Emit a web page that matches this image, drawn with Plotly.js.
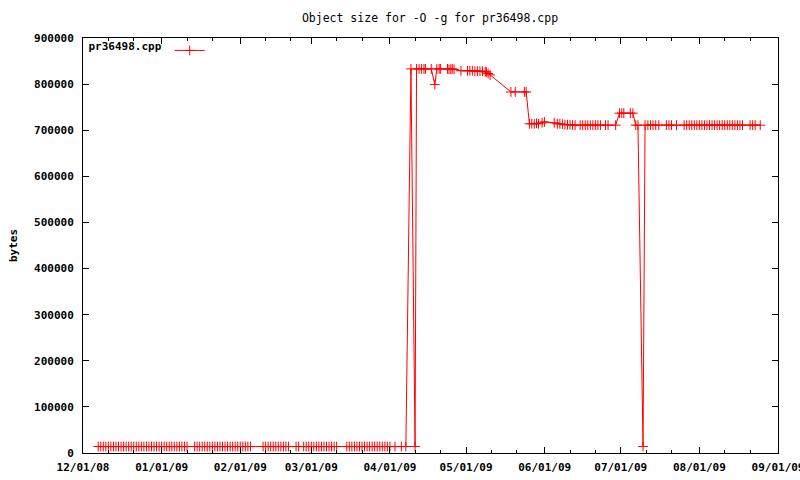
<!DOCTYPE html>
<html>
<head>
<meta charset="utf-8">
<script src="https://cdn.plot.ly/plotly-3.0.1.min.js"></script>
<style>html,body{margin:0;padding:0;background:#fff}#chart{width:800px;height:480px}</style>
</head>
<body>
<div id="chart"></div>
<script>
// ---- data ----
const seriesName = "pr36498.cpp";
const chartTitle = "Object size for -O -g for pr36498.cpp";
const yTitle = "bytes";

const lowDates = [
  "2008-12-07","2008-12-08","2008-12-09","2008-12-10","2008-12-11","2008-12-12","2008-12-13","2008-12-14","2008-12-15","2008-12-16",
  "2008-12-17","2008-12-18","2008-12-19","2008-12-20","2008-12-21","2008-12-22","2008-12-23","2008-12-24","2008-12-25","2008-12-26",
  "2008-12-27","2008-12-28","2008-12-29","2008-12-30","2008-12-31","2009-01-01","2009-01-02","2009-01-03","2009-01-04","2009-01-05",
  "2009-01-06","2009-01-07","2009-01-08","2009-01-09","2009-01-10","2009-01-11",
  "2009-01-14","2009-01-15","2009-01-16","2009-01-17","2009-01-18","2009-01-19","2009-01-20","2009-01-21","2009-01-22","2009-01-23",
  "2009-01-24","2009-01-25","2009-01-26","2009-01-27","2009-01-28","2009-01-29","2009-01-30","2009-01-31","2009-02-01","2009-02-02",
  "2009-02-03","2009-02-04","2009-02-05",
  "2009-02-10","2009-02-11","2009-02-12","2009-02-13","2009-02-14","2009-02-15","2009-02-16","2009-02-17","2009-02-18","2009-02-19",
  "2009-02-20","2009-02-23","2009-02-24",
  "2009-02-26","2009-02-27","2009-02-28","2009-03-01","2009-03-02","2009-03-03","2009-03-04","2009-03-05","2009-03-06","2009-03-07",
  "2009-03-08","2009-03-09","2009-03-10","2009-03-11",
  "2009-03-15","2009-03-16","2009-03-17","2009-03-18","2009-03-19","2009-03-20","2009-03-21","2009-03-22","2009-03-23","2009-03-24",
  "2009-03-25","2009-03-26","2009-03-27","2009-03-28","2009-03-29","2009-03-30","2009-03-31","2009-04-01",
  "2009-04-03","2009-04-05 12:00","2009-04-07 07:00"
];
const lowBytes = [
  14000,14000,14000,14000,14000,14000,14000,14000,14000,14000,
  14000,14000,14000,14000,14000,14000,14000,14000,14000,14000,
  14000,14000,14000,14000,14000,14000,14000,14000,14000,14000,
  14000,14000,14000,14000,14000,14000,
  14000,14000,14000,14000,14000,14000,14000,14000,14000,14000,
  14000,14000,14000,14000,14000,14000,14000,14000,14000,14000,
  14000,14000,14000,
  14000,14000,14000,14000,14000,14000,14000,14000,14000,14000,
  14000,14000,14000,
  14000,14000,14000,14000,14000,14000,14000,14000,14000,14000,
  14000,14000,14000,14000,
  14000,14000,14000,14000,14000,14000,14000,14000,14000,14000,
  14000,14000,14000,14000,14000,14000,14000,14000,
  14000,14000,14000
];

const highDates = [
  "2009-04-09 07:00","2009-04-10 22:00","2009-04-11 12:00","2009-04-12 12:00","2009-04-13 10:00","2009-04-14 10:00","2009-04-15","2009-04-17 07:00","2009-04-18 17:00","2009-04-19 12:00",
  "2009-04-20 10:00","2009-04-21","2009-04-23 17:00","2009-04-24 07:00","2009-04-25","2009-04-25 14:00","2009-04-26 07:00","2009-04-29","2009-05-01 14:00","2009-05-02 12:00",
  "2009-05-03 12:00","2009-05-04 12:00","2009-05-05 12:00","2009-05-06 12:00","2009-05-07 12:00","2009-05-08 14:00","2009-05-09","2009-05-09 17:00","2009-05-10 12:00","2009-05-18 17:00",
  "2009-05-20 10:00","2009-05-24","2009-05-24 17:00","2009-05-26","2009-05-26 22:00","2009-05-27 22:00","2009-05-28 19:00","2009-05-29 14:00","2009-05-31","2009-05-31 22:00",
  "2009-06-04 19:00","2009-06-06","2009-06-07","2009-06-08","2009-06-09","2009-06-10","2009-06-11","2009-06-12","2009-06-13","2009-06-15",
  "2009-06-16","2009-06-17","2009-06-18","2009-06-19","2009-06-20","2009-06-21","2009-06-22","2009-06-23","2009-06-25","2009-06-26",
  "2009-06-29","2009-06-30 12:00","2009-07-01 10:00","2009-07-02 05:00","2009-07-04 19:00","2009-07-05 19:00","2009-07-06 22:00","2009-07-07 19:00","2009-07-09 19:00","2009-07-10 14:00",
  "2009-07-11 17:00","2009-07-12 17:00","2009-07-13 17:00","2009-07-14 19:00","2009-07-16","2009-07-19","2009-07-20","2009-07-21","2009-07-23","2009-07-26",
  "2009-07-27","2009-07-28","2009-07-29","2009-07-30","2009-07-31","2009-08-01","2009-08-02","2009-08-03","2009-08-04","2009-08-05",
  "2009-08-06","2009-08-07","2009-08-08","2009-08-09","2009-08-10","2009-08-11","2009-08-12","2009-08-13","2009-08-14","2009-08-15",
  "2009-08-16","2009-08-17","2009-08-18","2009-08-21","2009-08-22","2009-08-23","2009-08-25"
];
const highBytes = [
  833000,14000,833000,833000,833000,833000,833000,833000,799000,833000,
  833000,833000,833000,832000,832000,833000,832000,829000,829000,829000,
  829000,828000,828000,828000,828000,827000,826000,823000,820000,783000,
  783000,783000,783000,714000,714000,714000,715000,714000,716000,718000,
  716000,714000,714000,713000,712000,712000,712000,711000,711000,711000,
  711000,711000,711000,711000,711000,711000,711000,711000,711000,711000,
  711000,737000,737000,737000,737000,737000,711000,711000,14000,711000,
  711000,711000,711000,711000,711000,711000,711000,711000,711000,711000,
  711000,711000,711000,711000,711000,711000,711000,711000,711000,711000,
  711000,711000,711000,711000,711000,711000,711000,711000,711000,711000,
  711000,711000,711000,711000,711000,711000,711000
];

const monthTicks = ["2008-12-01","2009-01-01","2009-02-01","2009-03-01","2009-04-01","2009-05-01","2009-06-01","2009-07-01","2009-08-01","2009-09-01"];
const minorTicks = ["2008-12-11","2008-12-21","2009-01-11","2009-01-21","2009-02-11","2009-02-21","2009-03-11","2009-03-21","2009-04-11","2009-04-21","2009-05-11","2009-05-21","2009-06-11","2009-06-21","2009-07-11","2009-07-21","2009-08-11","2009-08-21"];
const yTicks = [0,100000,200000,300000,400000,500000,600000,700000,800000,900000];

// ---- chart ----
const font = {family: "'DejaVu Sans Mono', 'Liberation Mono', monospace", size: 11, color: "#000", weight: "bold"};

const trace = {
  x: lowDates.concat(highDates),
  y: lowBytes.concat(highBytes),
  type: "scatter",
  mode: "lines+markers",
  name: " ",
  line: {color: "#ff0000", width: 1},
  marker: {symbol: "cross-thin-open", size: 7, color: "#ff0000", line: {color: "#ff0000", width: 1}},
  hoverinfo: "x+y"
};

const layout = {
  width: 800, height: 480,
  margin: {l: 83, r: 22, t: 38, b: 27, pad: 0},
  paper_bgcolor: "#fff", plot_bgcolor: "#fff",
  font: font,
  title: {text: chartTitle, x: 0.5375, xanchor: "center", y: 0.963, yanchor: "middle",
          font: {family: "'DejaVu Sans Mono', monospace", size: 11.5, color: "#000", weight: "normal"}},
  showlegend: true,
  legend: {
    x: 0.005, xanchor: "left", y: 1.005, yanchor: "top",
    bgcolor: "rgba(0,0,0,0)", borderwidth: 0,
    title: {text: seriesName, side: "left", font: font},
    font: font, itemwidth: 30, tracegroupgap: 0
  },
  xaxis: {
    type: "date",
    range: ["2008-12-01", "2009-09-01"],
    tickmode: "array", tickvals: monthTicks, tickformat: "%m/%d/%y",
    ticks: "inside", ticklen: 6, tickwidth: 1, tickcolor: "#000",
    showline: true, linecolor: "#000", linewidth: 1, mirror: "ticks",
    showgrid: false, zeroline: false,
    minor: {tickmode: "array", tickvals: minorTicks, ticks: "inside", ticklen: 3, tickwidth: 1, tickcolor: "#000", showgrid: false},
    tickfont: font, ticklabelstandoff: 4, ticklabeloverflow: "allow"
  },
  yaxis: {
    range: [0, 900000],
    tickmode: "array", tickvals: yTicks, tickformat: "d",
    ticks: "inside", ticklen: 6, tickwidth: 1, tickcolor: "#000",
    showline: true, linecolor: "#000", linewidth: 1, mirror: "ticks",
    showgrid: false, zeroline: false,
    tickfont: font, ticklabelstandoff: 6,
    title: {text: yTitle, font: font, standoff: 14}
  }
};

Plotly.newPlot("chart", [trace], layout, {displayModeBar: false, staticPlot: true});
</script>
</body>
</html>
